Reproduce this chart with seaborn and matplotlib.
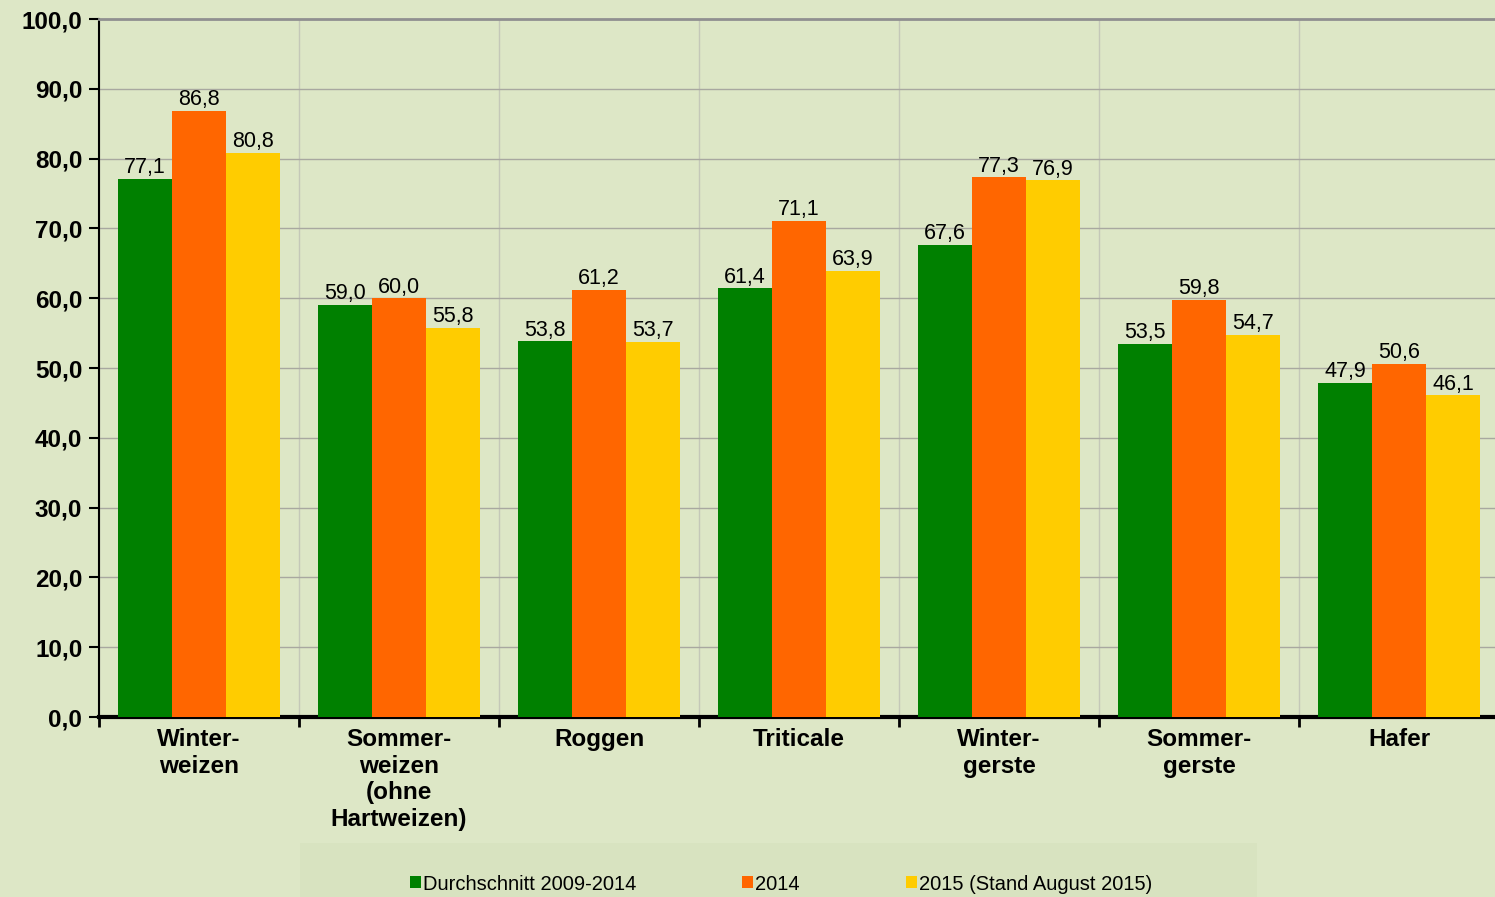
import matplotlib
matplotlib.use("Agg")
import matplotlib.pyplot as plt
import seaborn as sns
import pandas as pd
import numpy as np
from matplotlib.patches import Rectangle, Patch

categories = ["Winter-\nweizen", "Sommer-\nweizen\n(ohne\nHartweizen)", "Roggen", "Triticale",
              "Winter-\ngerste", "Sommer-\ngerste", "Hafer"]
series = ["Durchschnitt 2009-2014", "2014", "2015 (Stand August 2015)"]
avg_2009_2014 = [77.1, 59.0, 53.8, 61.4, 67.6, 53.5, 47.9]
y2014 = [86.8, 60.0, 61.2, 71.1, 77.3, 59.8, 50.6]
y2015 = [80.8, 55.8, 53.7, 63.9, 76.9, 54.7, 46.1]
colors = ["#008000", "#ff6600", "#ffcc00"]
yticks = np.arange(0, 101, 10)

rows = []
for s, vals in zip(series, [avg_2009_2014, y2014, y2015]):
    for c, v in zip(categories, vals):
        rows.append({"Kategorie": c, "Serie": s, "Wert": v})
df = pd.DataFrame(rows)

sns.set_theme(style="white")
plt.rcParams['font.family'] = ['Liberation Sans', 'DejaVu Sans']
plt.rcParams['text.color'] = 'black'
plt.rcParams['xtick.color'] = 'black'
plt.rcParams['ytick.color'] = 'black'
plt.rcParams['xtick.labelcolor'] = 'black'
plt.rcParams['ytick.labelcolor'] = 'black'

bg = "#dde7c6"
fig = plt.figure(figsize=(14.95, 8.97), dpi=100, facecolor=bg)
ax = fig.add_axes([99/1495, 1 - 717/897, 1400/1495, (717-19)/897])
ax.set_facecolor(bg)

sns.barplot(data=df, x="Kategorie", y="Wert", hue="Serie", palette=colors,
            width=0.81, ax=ax, legend=False, saturation=1, linewidth=0, zorder=3)

for cont in ax.containers:
    labels = [f"{v:.1f}".replace(".", ",") for v in cont.datavalues]
    ax.bar_label(cont, labels=labels, padding=0.5, fontsize=15.5, color="black")

ax.set_ylim(0, 100)
ax.set_xlim(-0.5, len(categories) - 0.5)
ax.set_yticks(yticks)
ax.set_yticklabels([f"{v:.1f}".replace(".", ",") for v in yticks], fontsize=17.5,
                   fontweight="bold", color="black")
ax.set_xticks(range(len(categories)))
ax.set_xticklabels(categories, fontsize=17.5, fontweight="bold", linespacing=1.2,
                   va="top", color="black")
ax.set_xticks(np.arange(-0.5, len(categories), 1), minor=True)
ax.tick_params(axis="x", which="major", length=0, pad=8)
ax.tick_params(axis="x", which="minor", length=7, width=2, color="black", direction="out", bottom=True)
ax.tick_params(axis="y", length=7, width=1.5, color="black", direction="out", left=True, pad=5)
ax.set_xlabel("")
ax.set_ylabel("")

ax.grid(axis="y", which="major", color="#a8a8a0", linewidth=1, zorder=0)
ax.grid(axis="x", which="minor", color="#c4c8b8", linewidth=1, zorder=0)
ax.grid(axis="x", which="major", visible=False)
ax.set_axisbelow(True)

ax.spines["left"].set_color("black")
ax.spines["left"].set_linewidth(1.5)
ax.spines["bottom"].set_color("black")
ax.spines["bottom"].set_linewidth(3)
ax.spines["top"].set_color("#909090")
ax.spines["top"].set_linewidth(2)
ax.spines["right"].set_visible(False)

# legend box
fig.patches.append(Rectangle((300/1495, 0), (1257-300)/1495, (897-843)/897,
                             transform=fig.transFigure, facecolor="#d8e3c0",
                             edgecolor="none", zorder=0))
handles = [Patch(facecolor=c, edgecolor="none") for c in colors]
fig.legend(handles, series, loc="center", bbox_to_anchor=(781/1495, 1 - 884/897),
           ncol=3, frameon=False, handlelength=0.55, handleheight=0.55,
           handletextpad=0.1, columnspacing=5.25,
           prop={"family": ["Liberation Sans Narrow", "Liberation Sans"], "size": 14.5})

fig.savefig("out.png", dpi=100, facecolor=bg)
